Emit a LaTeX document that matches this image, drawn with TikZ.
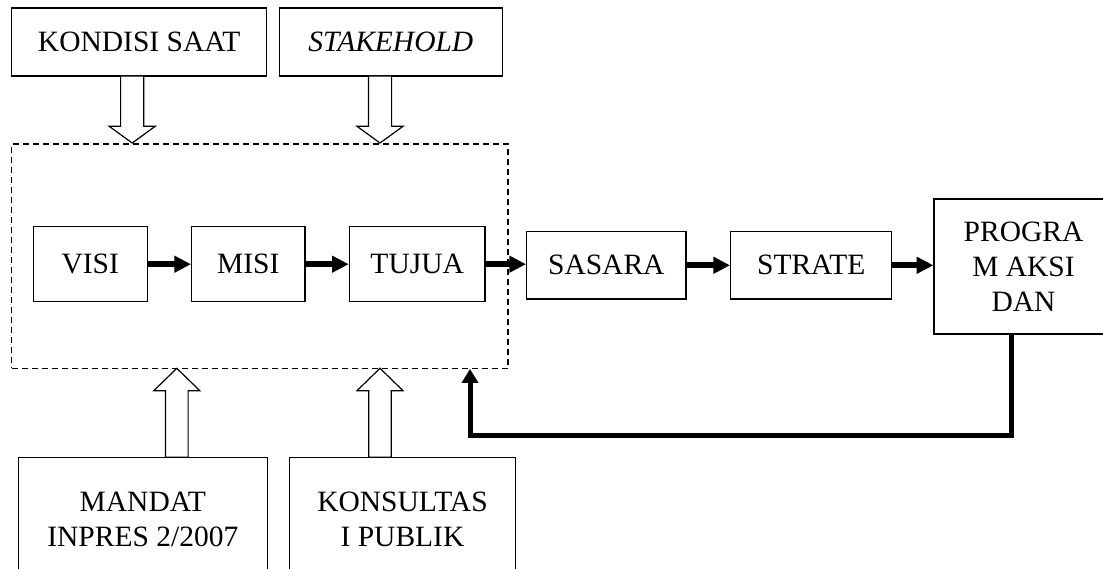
\documentclass[tikz,border=0pt]{standalone}
\usepackage{fontspec}
\setmainfont{Liberation Serif}
\usetikzlibrary{arrows.meta,calc}
% hollow block arrow pointing down: centre x, shaft start y, tip y
\newcommand\hollowdown[3]{%
  \draw[hollowarr] (#1-11.6,#2) -- (#1-11.6,#3-16.7) -- (#1-23,#3-16.7) -- (#1,#3)
    -- (#1+23,#3-16.7) -- (#1+11.6,#3-16.7) -- (#1+11.6,#2) -- cycle;}
% hollow block arrow pointing up: centre x, shaft start y, tip y
\newcommand\hollowup[3]{%
  \draw[hollowarr] (#1-11.3,#2) -- (#1-11.3,#3+22.4) -- (#1-23,#3+22.4) -- (#1,#3)
    -- (#1+23,#3+22.4) -- (#1+11.3,#3+22.4) -- (#1+11.3,#2) -- cycle;}
\begin{document}
\begin{tikzpicture}[x=1pt,y=-1pt,
  every node/.style={font=\fontsize{29.5}{34.8}\selectfont},
  box/.style={draw,line width=1.2pt,inner sep=0pt,align=center},
  hollowarr/.style={draw,line width=1.2pt,fill=white,line join=miter},
  flow/.style={line width=5.6pt,-{Triangle[length=16.7pt,width=16pt]}},
  fb/.style={line width=5pt,-{Triangle[length=14pt,width=16pt]}},
  dashbox/.style={draw,line width=1.1pt,dash pattern=on 6pt off 4pt,inner sep=0pt}]
\useasboundingbox (0,0) rectangle (1103,569);

\node[box,minimum width=255pt,minimum height=68pt] (kondisi) at (139.2,42) {KONDISI SAAT};
\node[box,minimum width=223pt,minimum height=68pt] (stake) at (390.8,42) {\itshape STAKEHOLD};

\node[dashbox,minimum width=496.3pt,minimum height=224.3pt] (dash) at (259.8,256.2) {};

\node[box,minimum width=114pt,minimum height=75pt] (visi) at (90.3,264.2) {VISI};
\node[box,minimum width=113.3pt,minimum height=75pt] (misi) at (248.3,264.2) {MISI};
\node[box,minimum width=135.7pt,minimum height=75pt] (tujua) at (417.2,264.2) {TUJUA};
\node[box,minimum width=159.3pt,minimum height=67.3pt] (sasara) at (606.3,265.3) {SASARA};
\node[box,minimum width=161pt,minimum height=67.3pt] (strate) at (811.2,265.3) {STRATE};
\node[box,minimum width=179pt,minimum height=135pt] (program) at (1023.5,266.5) {PROGRA\\M AKSI\\DAN};

\node[box,minimum width=249pt,minimum height=124pt] (mandat) at (142.8,519.3) {MANDAT\\INPRES 2/2007};
\node[box,minimum width=226.4pt,minimum height=124pt] (konsul) at (402.5,519.3) {KONSULTAS\\I PUBLIK};

\hollowdown{132.2}{76}{143}
\hollowdown{380}{76}{143}
\hollowup{176.8}{457.3}{368.3}
\hollowup{380}{457.3}{368.3}

\draw[flow] (visi) -- (misi);
\draw[flow] (misi) -- (tujua);
\draw[flow] (tujua.east) -- (tujua.east -| sasara.west);
\draw[flow] (sasara.east) -- (sasara.east -| strate.west);
\draw[flow] (strate.east) -- (strate.east -| program.west);

\coordinate (fbend) at (470,435);
\draw[fb] ([xshift=-11.8pt]program.south) |- (fbend) -- (fbend |- dash.south);
\end{tikzpicture}
\end{document}
